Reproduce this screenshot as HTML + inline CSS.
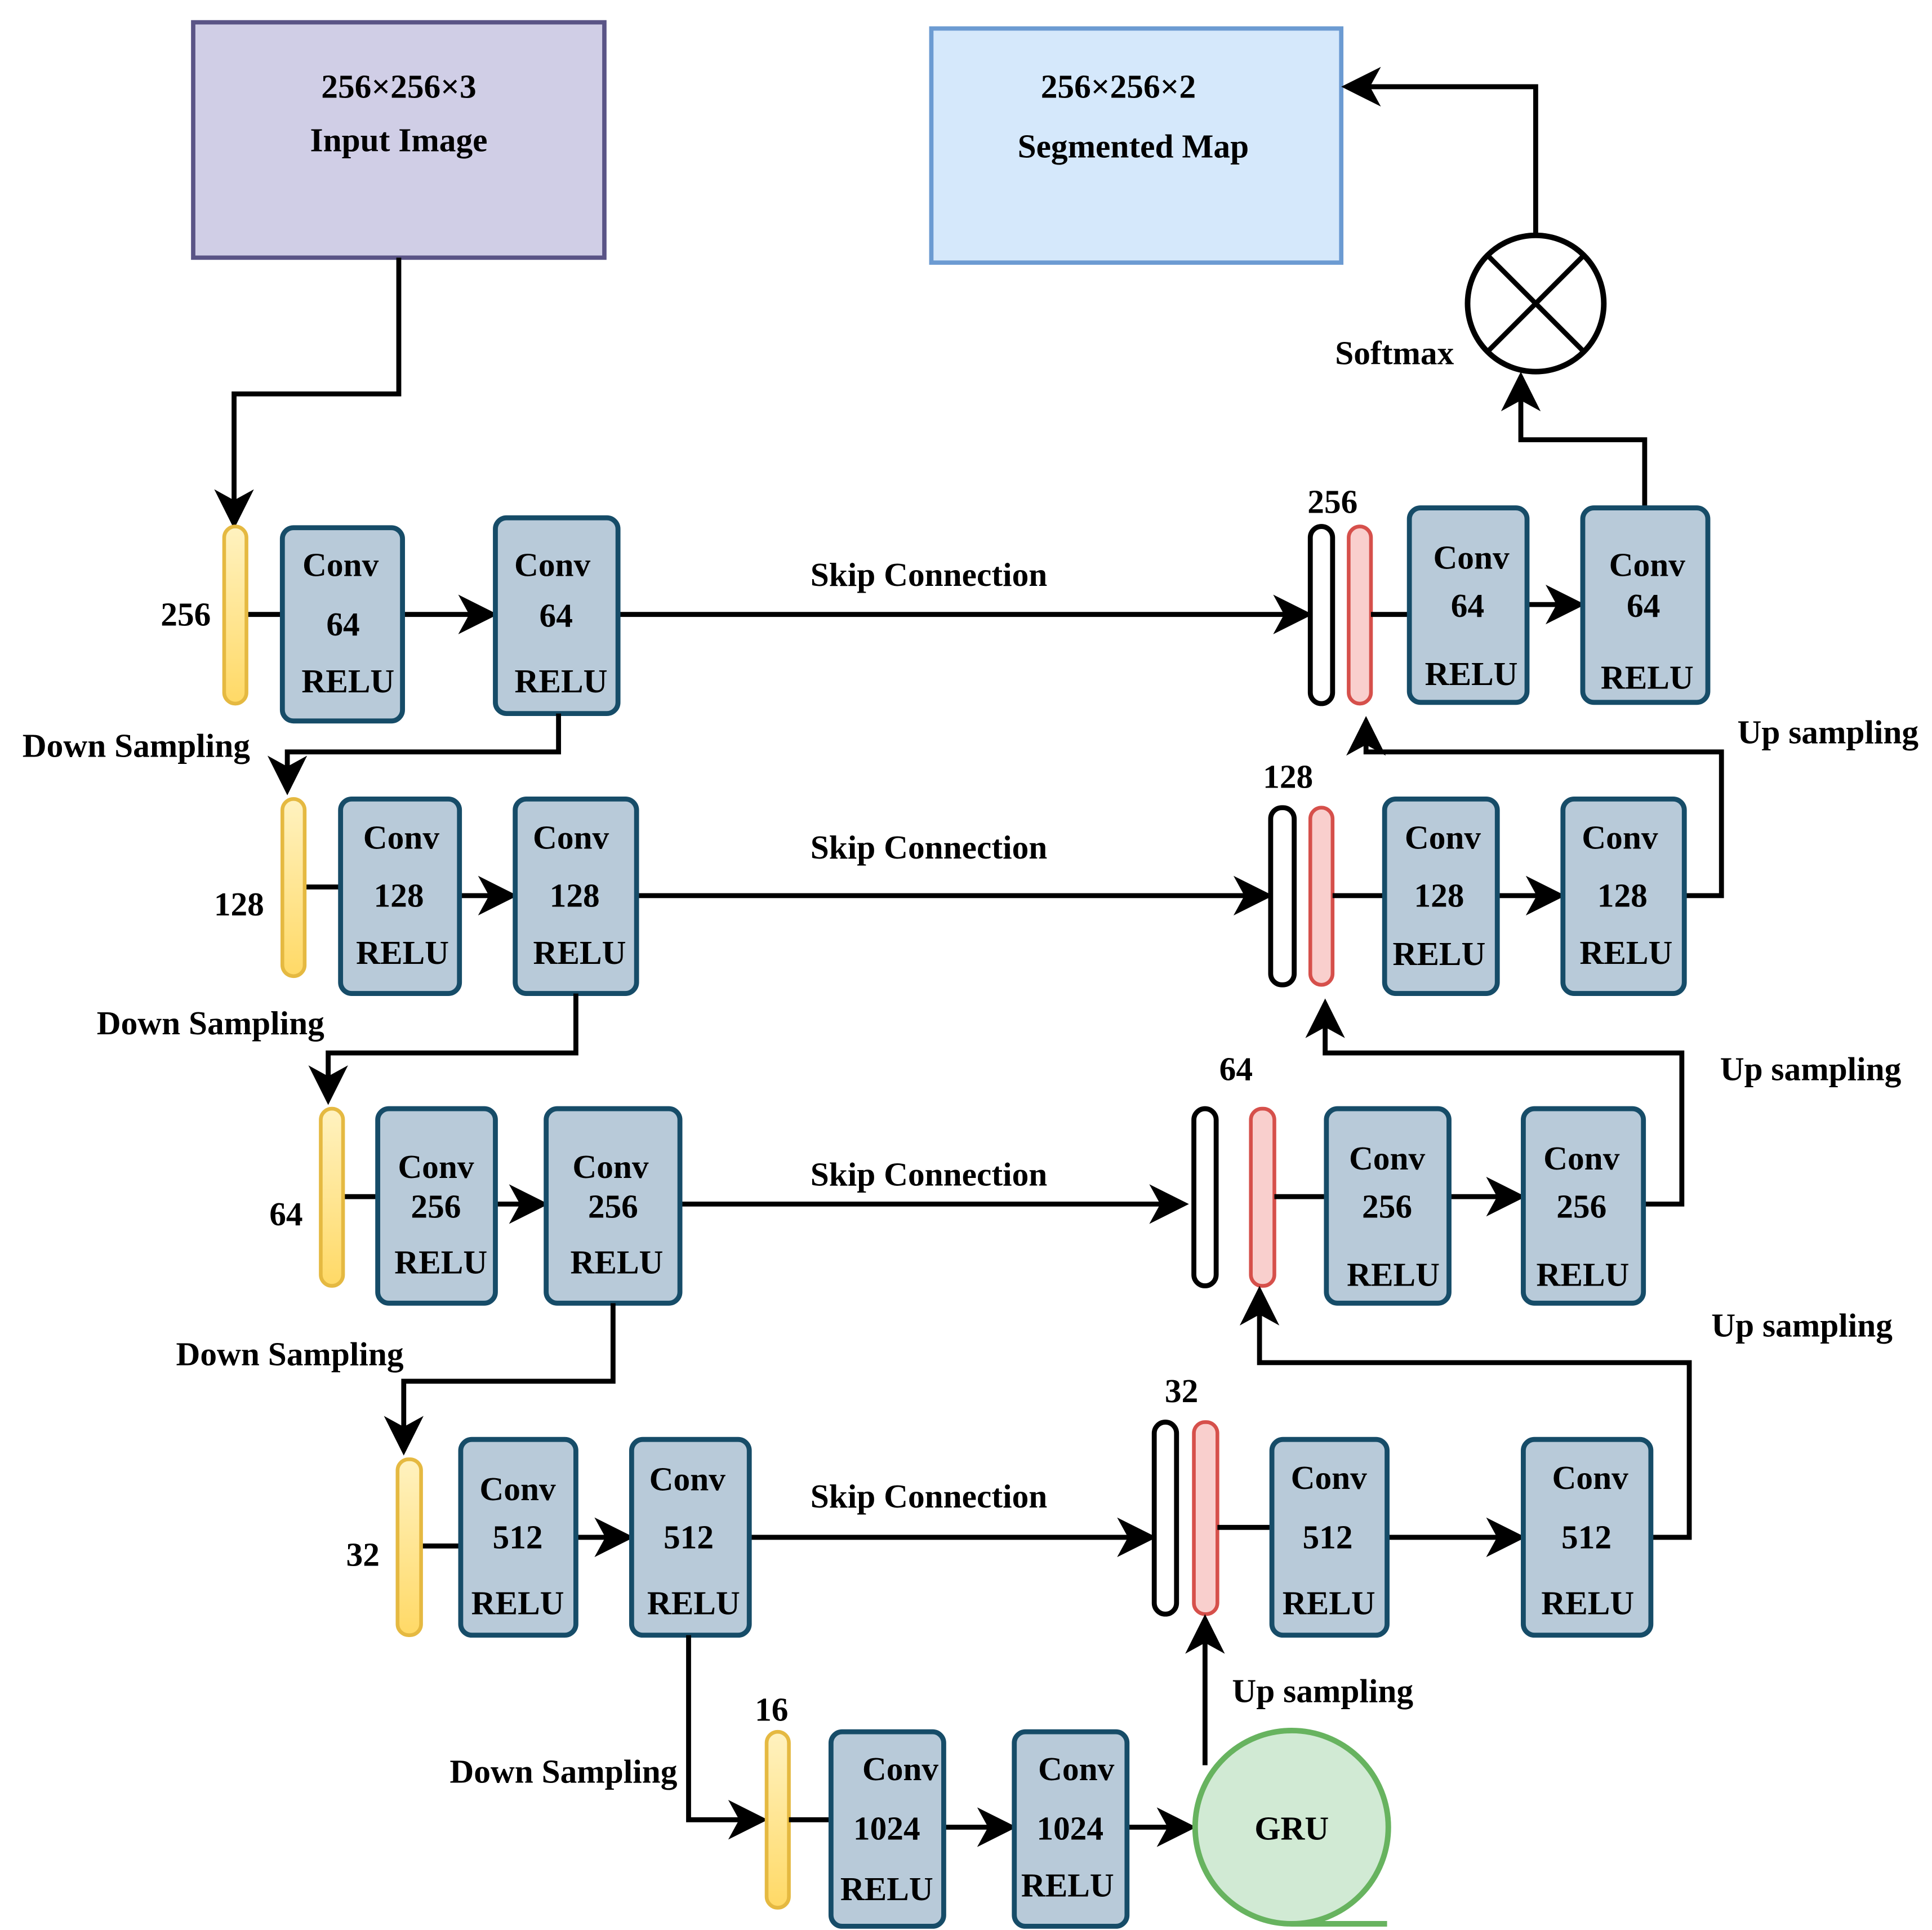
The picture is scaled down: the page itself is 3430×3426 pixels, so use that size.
<!DOCTYPE html>
<html><head><meta charset="utf-8"><style>html,body{margin:0;padding:0;background:#fff}svg{display:block}</style></head>
<body>
<svg width="3430" height="3426" viewBox="0 0 1560 1558" preserveAspectRatio="none" xmlns="http://www.w3.org/2000/svg">
<defs>
<marker id="a" markerWidth="8" markerHeight="8" refX="7" refY="4" orient="auto" markerUnits="strokeWidth"><path d="M0,0 L8,4 L0,8 L2.2,4 Z" fill="#000"/></marker>
<linearGradient id="yv" x1="0" y1="0" x2="0" y2="1"><stop offset="0" stop-color="#fff2c0"/><stop offset="1" stop-color="#ffd966"/></linearGradient>
</defs>
<style>
.cv{fill:#b8cad9;stroke:#164c68;stroke-width:4}
.yb{fill:url(#yv);stroke:#e5b941;stroke-width:3}
.rb{fill:#f9cfcd;stroke:#d6504b;stroke-width:3}
.kb{fill:#fff;stroke:#000;stroke-width:4}
.ln{fill:none;stroke:#000;stroke-width:4}
.ar{fill:none;stroke:#000;stroke-width:4;marker-end:url(#a)}
text{font-family:"Liberation Serif","DejaVu Serif",serif;font-weight:bold;font-size:27px;text-anchor:middle;fill:#000}
</style>

<rect x="156" y="18" width="332" height="190" fill="#d0cee6" stroke="#5a5486" stroke-width="3.5"/>
<text x="322" y="79">256×256×3</text>
<text x="322" y="122">Input Image</text>
<rect x="752" y="23" width="331" height="189" fill="#d5e8fb" stroke="#6c9bd2" stroke-width="3.5"/>
<text x="903" y="79">256×256×2</text>
<text x="915" y="127">Segmented Map</text>

<path class="ar" d="M322,208 V318 H189 V423"/>
<circle cx="1240" cy="245" r="55" fill="#fff" stroke="#000" stroke-width="4.5"/>
<path class="ln" d="M1201,206 L1279,284 M1279,206 L1201,284"/>
<text x="1126" y="294">Softmax</text>
<path class="ar" d="M1240,190 V70 H1087"/>
<path class="ar" d="M1328,410 V355 H1228 V304"/>

<!-- Row 1 -->
<text x="150" y="505">256</text>
<path class="ln" d="M199,496 H228"/>
<path class="ar" d="M325,496 H398"/>
<path class="ar" d="M499,496 H1056"/>
<rect class="yb" x="181" y="425" width="18" height="143" rx="9"/>
<rect class="cv" x="228" y="426" width="97" height="156" rx="9"/>
<text x="275" y="465">Conv</text><text x="277" y="513">64</text><text x="281" y="559">RELU</text>
<rect class="cv" x="400" y="418" width="99" height="158" rx="9"/>
<text x="446" y="465">Conv</text><text x="449" y="506">64</text><text x="453" y="559">RELU</text>
<text x="750" y="473">Skip Connection</text>
<rect class="kb" x="1058" y="425" width="18" height="143" rx="9"/>
<rect class="rb" x="1089" y="425" width="18" height="143" rx="9"/>
<path class="ln" d="M1107,496 H1138"/>
<path class="ar" d="M1233,488 H1276"/>
<text x="1076" y="414">256</text>
<rect class="cv" x="1138" y="410" width="95" height="157" rx="9"/>
<text x="1188" y="459">Conv</text><text x="1185" y="498">64</text><text x="1188" y="553">RELU</text>
<rect class="cv" x="1278" y="410" width="101" height="157" rx="9"/>
<text x="1330" y="465">Conv</text><text x="1327" y="498">64</text><text x="1330" y="556">RELU</text>

<path class="ar" d="M451,576 V607 H232 V638"/>
<text x="110" y="611">Down Sampling</text>
<path class="ar" d="M1360,723 H1390 V607 H1103 V582"/>
<text x="1476" y="600">Up sampling</text>

<!-- Row 2 -->
<text x="193" y="739">128</text>
<path class="ln" d="M246,716 H275"/>
<path class="ar" d="M371,723 H414"/>
<path class="ar" d="M514,723 H1024"/>
<rect class="yb" x="228" y="645" width="18" height="143" rx="9"/>
<rect class="cv" x="275" y="645" width="96" height="157" rx="9"/>
<text x="324" y="685">Conv</text><text x="322" y="732">128</text><text x="325" y="778">RELU</text>
<rect class="cv" x="416" y="645" width="98" height="157" rx="9"/>
<text x="461" y="685">Conv</text><text x="464" y="732">128</text><text x="468" y="778">RELU</text>
<text x="750" y="693">Skip Connection</text>
<text x="1040" y="636">128</text>
<rect class="kb" x="1026" y="652" width="19" height="143" rx="9"/>
<rect class="rb" x="1058" y="652" width="18" height="143" rx="9"/>
<path class="ln" d="M1076,723 H1118"/>
<path class="ar" d="M1209,723 H1260"/>
<rect class="cv" x="1118" y="645" width="91" height="157" rx="9"/>
<text x="1165" y="685">Conv</text><text x="1162" y="732">128</text><text x="1162" y="779">RELU</text>
<rect class="cv" x="1262" y="645" width="98" height="157" rx="9"/>
<text x="1308" y="685">Conv</text><text x="1310" y="732">128</text><text x="1313" y="778">RELU</text>

<path class="ar" d="M465,802 V850 H265 V888"/>
<text x="170" y="835">Down Sampling</text>
<path class="ar" d="M1327,972 H1358 V850 H1070 V810"/>
<text x="1462" y="872">Up sampling</text>

<!-- Row 3 -->
<text x="231" y="989">64</text>
<path class="ln" d="M277,966 H305"/>
<path class="ar" d="M400,972 H439"/>
<path class="ar" d="M549,972 H956"/>
<rect class="yb" x="259" y="895" width="18" height="143" rx="9"/>
<rect class="cv" x="305" y="895" width="95" height="157" rx="9"/>
<text x="352" y="951">Conv</text><text x="352" y="983">256</text><text x="356" y="1028">RELU</text>
<rect class="cv" x="441" y="895" width="108" height="157" rx="9"/>
<text x="493" y="951">Conv</text><text x="495" y="983">256</text><text x="498" y="1028">RELU</text>
<text x="750" y="957">Skip Connection</text>
<text x="998" y="872">64</text>
<rect class="kb" x="964" y="895" width="18" height="143" rx="9"/>
<rect class="rb" x="1010" y="895" width="19" height="143" rx="9"/>
<path class="ln" d="M1029,966 H1071"/>
<path class="ar" d="M1170,966 H1228"/>
<rect class="cv" x="1071" y="895" width="99" height="157" rx="9"/>
<text x="1120" y="944">Conv</text><text x="1120" y="983">256</text><text x="1125" y="1038">RELU</text>
<rect class="cv" x="1230" y="895" width="97" height="157" rx="9"/>
<text x="1277" y="944">Conv</text><text x="1277" y="983">256</text><text x="1278" y="1038">RELU</text>

<path class="ar" d="M495,1052 V1115 H326 V1171"/>
<text x="234" y="1102">Down Sampling</text>
<path class="ar" d="M1333,1241 H1364 V1100 H1017 V1042"/>
<text x="1455" y="1079">Up sampling</text>

<!-- Row 4 -->
<text x="293" y="1264">32</text>
<path class="ln" d="M340,1248 H372"/>
<path class="ar" d="M465,1241 H508"/>
<path class="ar" d="M605,1241 H930"/>
<rect class="yb" x="321" y="1178" width="19" height="142" rx="9"/>
<rect class="cv" x="372" y="1162" width="93" height="158" rx="9"/>
<text x="418" y="1211">Conv</text><text x="418" y="1250">512</text><text x="418" y="1303">RELU</text>
<rect class="cv" x="510" y="1162" width="95" height="158" rx="9"/>
<text x="555" y="1203">Conv</text><text x="556" y="1250">512</text><text x="560" y="1303">RELU</text>
<text x="750" y="1217">Skip Connection</text>
<text x="954" y="1132">32</text>
<rect class="kb" x="932" y="1148" width="18" height="155" rx="9"/>
<rect class="rb" x="964" y="1148" width="19" height="155" rx="9"/>
<path class="ln" d="M983,1233 H1027"/>
<path class="ar" d="M1120,1241 H1228"/>
<rect class="cv" x="1027" y="1162" width="93" height="158" rx="9"/>
<text x="1073" y="1202">Conv</text><text x="1072" y="1250">512</text><text x="1073" y="1303">RELU</text>
<rect class="cv" x="1230" y="1162" width="103" height="158" rx="9"/>
<text x="1284" y="1202">Conv</text><text x="1281" y="1250">512</text><text x="1282" y="1303">RELU</text>

<path class="ar" d="M556,1320 V1469 H616"/>
<text x="455" y="1439">Down Sampling</text>

<!-- Row 5 -->
<text x="623" y="1389">16</text>
<rect class="yb" x="619" y="1398" width="18" height="142" rx="9"/>
<path class="ln" d="M637,1469 H671"/>
<path class="ar" d="M762,1475 H817"/>
<path class="ar" d="M910,1475 H962"/>
<rect class="cv" x="671" y="1398" width="91" height="157" rx="9"/>
<text x="727" y="1437">Conv</text><text x="716" y="1485">1024</text><text x="716" y="1534">RELU</text>
<rect class="cv" x="819" y="1398" width="91" height="157" rx="9"/>
<text x="869" y="1437">Conv</text><text x="864" y="1485">1024</text><text x="862" y="1531">RELU</text>
<circle cx="1043" cy="1475" r="78" fill="#d1ead4" stroke="#67b35f" stroke-width="4.5"/>
<path d="M1043,1553 H1120" stroke="#67b35f" stroke-width="4.5"/>
<text x="1043" y="1485">GRU</text>
<path class="ar" d="M973,1425 V1307"/>
<text x="1068" y="1374">Up sampling</text>
</svg>
</body></html>
